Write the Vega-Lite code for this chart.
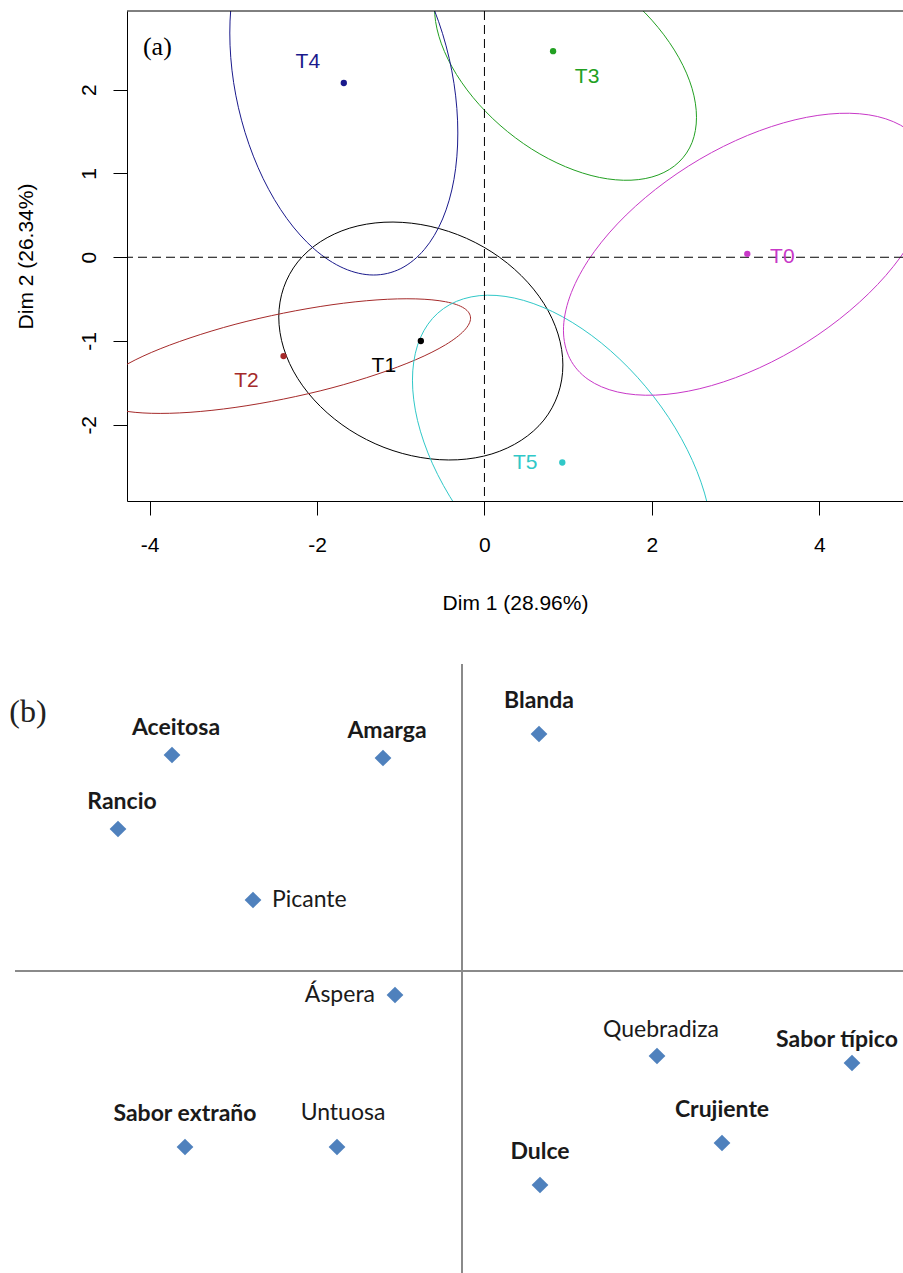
{
  "$schema": "https://vega.github.io/schema/vega-lite/v6.json",
  "padding": {"left": 9, "top": 10, "right": 0, "bottom": 0},
  "spacing": 50,
  "config": {"view": {"stroke": null}, "font": "Liberation Sans"},
  "datasets": {
    "treat": [
      {"name": "T0", "x": 3.14, "y": 0.04},
      {"name": "T1", "x": -0.76, "y": -1.0},
      {"name": "T2", "x": -2.4, "y": -1.18},
      {"name": "T3", "x": 0.82, "y": 2.46},
      {"name": "T4", "x": -1.68, "y": 2.08},
      {"name": "T5", "x": 0.93, "y": -2.45}
    ],
    "ellipses": [
      {"g": "T1", "i": 0, "x": 0.937, "y": -1.286}, {"g": "T1", "i": 1, "x": 0.879, "y": -0.916}, {"g": "T1", "i": 2, "x": 0.71, "y": -0.552}, {"g": "T1", "i": 3, "x": 0.44, "y": -0.219}, {"g": "T1", "i": 4, "x": 0.089, "y": 0.062}, {"g": "T1", "i": 5, "x": -0.32, "y": 0.27}, {"g": "T1", "i": 6, "x": -0.76, "y": 0.391}, {"g": "T1", "i": 7, "x": -1.2, "y": 0.418}, {"g": "T1", "i": 8, "x": -1.609, "y": 0.348}, {"g": "T1", "i": 9, "x": -1.96, "y": 0.185}, {"g": "T1", "i": 10, "x": -2.23, "y": -0.056}, {"g": "T1", "i": 11, "x": -2.399, "y": -0.364}, {"g": "T1", "i": 12, "x": -2.457, "y": -0.714}, {"g": "T1", "i": 13, "x": -2.399, "y": -1.084}, {"g": "T1", "i": 14, "x": -2.23, "y": -1.448}, {"g": "T1", "i": 15, "x": -1.96, "y": -1.781}, {"g": "T1", "i": 16, "x": -1.609, "y": -2.062}, {"g": "T1", "i": 17, "x": -1.2, "y": -2.27}, {"g": "T1", "i": 18, "x": -0.76, "y": -2.391}, {"g": "T1", "i": 19, "x": -0.32, "y": -2.418}, {"g": "T1", "i": 20, "x": 0.089, "y": -2.348}, {"g": "T1", "i": 21, "x": 0.44, "y": -2.185}, {"g": "T1", "i": 22, "x": 0.71, "y": -1.944}, {"g": "T1", "i": 23, "x": 0.879, "y": -1.636},
      {"g": "T2", "i": 0, "x": -0.166, "y": -0.727}, {"g": "T2", "i": 1, "x": -0.242, "y": -0.609}, {"g": "T2", "i": 2, "x": -0.465, "y": -0.531}, {"g": "T2", "i": 3, "x": -0.82, "y": -0.497}, {"g": "T2", "i": 4, "x": -1.283, "y": -0.509}, {"g": "T2", "i": 5, "x": -1.821, "y": -0.567}, {"g": "T2", "i": 6, "x": -2.4, "y": -0.667}, {"g": "T2", "i": 7, "x": -2.979, "y": -0.801}, {"g": "T2", "i": 8, "x": -3.517, "y": -0.963}, {"g": "T2", "i": 9, "x": -3.98, "y": -1.137}, {"g": "T2", "i": 10, "x": -4.335, "y": -1.315}, {"g": "T2", "i": 11, "x": -4.558, "y": -1.485}, {"g": "T2", "i": 12, "x": -4.634, "y": -1.633}, {"g": "T2", "i": 13, "x": -4.558, "y": -1.751}, {"g": "T2", "i": 14, "x": -4.335, "y": -1.829}, {"g": "T2", "i": 15, "x": -3.98, "y": -1.863}, {"g": "T2", "i": 16, "x": -3.517, "y": -1.851}, {"g": "T2", "i": 17, "x": -2.979, "y": -1.793}, {"g": "T2", "i": 18, "x": -2.4, "y": -1.693}, {"g": "T2", "i": 19, "x": -1.821, "y": -1.559}, {"g": "T2", "i": 20, "x": -1.283, "y": -1.397}, {"g": "T2", "i": 21, "x": -0.82, "y": -1.223}, {"g": "T2", "i": 22, "x": -0.465, "y": -1.045}, {"g": "T2", "i": 23, "x": -0.242, "y": -0.875},
      {"g": "T3", "i": 0, "x": 2.533, "y": 1.671}, {"g": "T3", "i": 1, "x": 2.48, "y": 2.016}, {"g": "T3", "i": 2, "x": 2.323, "y": 2.382}, {"g": "T3", "i": 3, "x": 2.074, "y": 2.744}, {"g": "T3", "i": 4, "x": 1.751, "y": 3.078}, {"g": "T3", "i": 5, "x": 1.373, "y": 3.361}, {"g": "T3", "i": 6, "x": 0.968, "y": 3.573}, {"g": "T3", "i": 7, "x": 0.563, "y": 3.701}, {"g": "T3", "i": 8, "x": 0.186, "y": 3.734}, {"g": "T3", "i": 9, "x": -0.138, "y": 3.672}, {"g": "T3", "i": 10, "x": -0.387, "y": 3.518}, {"g": "T3", "i": 11, "x": -0.544, "y": 3.284}, {"g": "T3", "i": 12, "x": -0.597, "y": 2.983}, {"g": "T3", "i": 13, "x": -0.544, "y": 2.638}, {"g": "T3", "i": 14, "x": -0.387, "y": 2.272}, {"g": "T3", "i": 15, "x": -0.138, "y": 1.91}, {"g": "T3", "i": 16, "x": 0.186, "y": 1.576}, {"g": "T3", "i": 17, "x": 0.563, "y": 1.293}, {"g": "T3", "i": 18, "x": 0.968, "y": 1.081}, {"g": "T3", "i": 19, "x": 1.373, "y": 0.953}, {"g": "T3", "i": 20, "x": 1.751, "y": 0.92}, {"g": "T3", "i": 21, "x": 2.074, "y": 0.982}, {"g": "T3", "i": 22, "x": 2.323, "y": 1.136}, {"g": "T3", "i": 23, "x": 2.48, "y": 1.37},
      {"g": "T4", "i": 0, "x": -0.318, "y": 1.483}, {"g": "T4", "i": 1, "x": -0.364, "y": 2.076}, {"g": "T4", "i": 2, "x": -0.5, "y": 2.669}, {"g": "T4", "i": 3, "x": -0.717, "y": 3.222}, {"g": "T4", "i": 4, "x": -0.999, "y": 3.697}, {"g": "T4", "i": 5, "x": -1.327, "y": 4.062}, {"g": "T4", "i": 6, "x": -1.68, "y": 4.292}, {"g": "T4", "i": 7, "x": -2.033, "y": 4.372}, {"g": "T4", "i": 8, "x": -2.361, "y": 4.295}, {"g": "T4", "i": 9, "x": -2.643, "y": 4.066}, {"g": "T4", "i": 10, "x": -2.86, "y": 3.703}, {"g": "T4", "i": 11, "x": -2.996, "y": 3.23}, {"g": "T4", "i": 12, "x": -3.042, "y": 2.677}, {"g": "T4", "i": 13, "x": -2.996, "y": 2.084}, {"g": "T4", "i": 14, "x": -2.86, "y": 1.491}, {"g": "T4", "i": 15, "x": -2.643, "y": 0.938}, {"g": "T4", "i": 16, "x": -2.361, "y": 0.463}, {"g": "T4", "i": 17, "x": -2.033, "y": 0.098}, {"g": "T4", "i": 18, "x": -1.68, "y": -0.132}, {"g": "T4", "i": 19, "x": -1.327, "y": -0.212}, {"g": "T4", "i": 20, "x": -0.999, "y": -0.135}, {"g": "T4", "i": 21, "x": -0.717, "y": 0.094}, {"g": "T4", "i": 22, "x": -0.5, "y": 0.457}, {"g": "T4", "i": 23, "x": -0.364, "y": 0.93},
      {"g": "T5", "i": 0, "x": 2.724, "y": -3.425}, {"g": "T5", "i": 1, "x": 2.663, "y": -2.942}, {"g": "T5", "i": 2, "x": 2.484, "y": -2.426}, {"g": "T5", "i": 3, "x": 2.199, "y": -1.911}, {"g": "T5", "i": 4, "x": 1.828, "y": -1.433}, {"g": "T5", "i": 5, "x": 1.396, "y": -1.023}, {"g": "T5", "i": 6, "x": 0.932, "y": -0.71}, {"g": "T5", "i": 7, "x": 0.468, "y": -0.515}, {"g": "T5", "i": 8, "x": 0.036, "y": -0.453}, {"g": "T5", "i": 9, "x": -0.335, "y": -0.527}, {"g": "T5", "i": 10, "x": -0.62, "y": -0.73}, {"g": "T5", "i": 11, "x": -0.799, "y": -1.05}, {"g": "T5", "i": 12, "x": -0.86, "y": -1.467}, {"g": "T5", "i": 13, "x": -0.799, "y": -1.95}, {"g": "T5", "i": 14, "x": -0.62, "y": -2.466}, {"g": "T5", "i": 15, "x": -0.335, "y": -2.981}, {"g": "T5", "i": 16, "x": 0.036, "y": -3.459}, {"g": "T5", "i": 17, "x": 0.468, "y": -3.869}, {"g": "T5", "i": 18, "x": 0.932, "y": -4.182}, {"g": "T5", "i": 19, "x": 1.396, "y": -4.377}, {"g": "T5", "i": 20, "x": 1.828, "y": -4.439}, {"g": "T5", "i": 21, "x": 2.199, "y": -4.365}, {"g": "T5", "i": 22, "x": 2.484, "y": -4.162}, {"g": "T5", "i": 23, "x": 2.663, "y": -3.842},
      {"g": "T0", "i": 0, "x": 5.34, "y": 0.943}, {"g": "T0", "i": 1, "x": 5.265, "y": 1.279}, {"g": "T0", "i": 2, "x": 5.046, "y": 1.53}, {"g": "T0", "i": 3, "x": 4.696, "y": 1.68}, {"g": "T0", "i": 4, "x": 4.241, "y": 1.718}, {"g": "T0", "i": 5, "x": 3.711, "y": 1.641}, {"g": "T0", "i": 6, "x": 3.142, "y": 1.454}, {"g": "T0", "i": 7, "x": 2.573, "y": 1.171}, {"g": "T0", "i": 8, "x": 2.043, "y": 0.81}, {"g": "T0", "i": 9, "x": 1.588, "y": 0.398}, {"g": "T0", "i": 10, "x": 1.238, "y": -0.04}, {"g": "T0", "i": 11, "x": 1.019, "y": -0.473}, {"g": "T0", "i": 12, "x": 0.944, "y": -0.871}, {"g": "T0", "i": 13, "x": 1.019, "y": -1.207}, {"g": "T0", "i": 14, "x": 1.238, "y": -1.458}, {"g": "T0", "i": 15, "x": 1.588, "y": -1.608}, {"g": "T0", "i": 16, "x": 2.043, "y": -1.646}, {"g": "T0", "i": 17, "x": 2.573, "y": -1.569}, {"g": "T0", "i": 18, "x": 3.142, "y": -1.382}, {"g": "T0", "i": 19, "x": 3.711, "y": -1.099}, {"g": "T0", "i": 20, "x": 4.241, "y": -0.738}, {"g": "T0", "i": 21, "x": 4.696, "y": -0.326}, {"g": "T0", "i": 22, "x": 5.046, "y": 0.112}, {"g": "T0", "i": 23, "x": 5.265, "y": 0.545}
    ],
    "attrs": [
      {"name": "Aceitosa", "x": -2.9, "y": 2.16},
      {"name": "Amarga", "x": -0.79, "y": 2.13},
      {"name": "Rancio", "x": -3.44, "y": 1.42},
      {"name": "Picante", "x": -2.09, "y": 0.71},
      {"name": "Blanda", "x": 0.77, "y": 2.37},
      {"name": "Áspera", "x": -0.67, "y": -0.24},
      {"name": "Quebradiza", "x": 1.95, "y": -0.85},
      {"name": "Sabor típico", "x": 3.9, "y": -0.92},
      {"name": "Crujiente", "x": 2.6, "y": -1.72},
      {"name": "Dulce", "x": 0.78, "y": -2.14},
      {"name": "Sabor extraño", "x": -2.77, "y": -1.76},
      {"name": "Untuosa", "x": -1.25, "y": -1.76}
    ]
  },
  "vconcat": [
    {
      "width": 776,
      "height": 490,
      "layer": [
        {
          "data": {"name": "ellipses"},
          "mark": {"type": "line", "interpolate": "cardinal-closed", "clip": true, "strokeWidth": 1},
          "encoding": {
            "x": {"field": "x", "type": "quantitative",
              "scale": {"domain": [-4.27, 5.0], "nice": false, "zero": false},
              "axis": {"title": "Dim 1 (28.96%)", "values": [-4, -2, 0, 2, 4], "labelExpr": "'' + datum.value", "grid": false,
                "domainColor": "#000000", "domainWidth": 1, "tickColor": "#000000", "tickSize": 14, "tickWidth": 1,
                "labelFont": "Liberation Sans", "labelFontSize": 21, "labelColor": "#000000", "labelPadding": 19,
                "labelFlush": false, "labelOverlap": false,
                "titleFont": "Liberation Sans", "titleFontSize": 21, "titleFontWeight": "normal", "titleColor": "#000000", "titlePadding": 37}},
            "y": {"field": "y", "type": "quantitative",
              "scale": {"domain": [-2.91, 2.94], "nice": false, "zero": false},
              "axis": {"title": "Dim 2 (26.34%)", "values": [-2, -1, 0, 1, 2], "labelExpr": "'' + datum.value", "grid": false,
                "domainColor": "#000000", "domainWidth": 1, "tickColor": "#000000", "tickSize": 14, "tickWidth": 1,
                "labelFont": "Liberation Sans", "labelFontSize": 21, "labelColor": "#000000", "labelPadding": 14,
                "labelAngle": -90, "labelFlush": false, "labelOverlap": false,
                "titleFont": "Liberation Sans", "titleFontSize": 21, "titleFontWeight": "normal", "titleColor": "#000000", "titlePadding": 42}},
            "color": {"field": "g", "type": "nominal",
              "scale": {"domain": ["T0", "T1", "T2", "T3", "T4", "T5"], "range": ["#C838C8", "#000000", "#A52A2A", "#22A022", "#1A1A8C", "#30C8C8"]},
              "legend": null},
            "order": {"field": "i", "type": "quantitative"}
          }
        },
        {
          "data": {"values": [{}]},
          "mark": {"type": "rule", "strokeDash": [9, 5], "color": "#000000", "strokeWidth": 1},
          "encoding": {"x": {"datum": 0}}
        },
        {
          "data": {"values": [{}]},
          "mark": {"type": "rule", "strokeDash": [9, 5], "color": "#000000", "strokeWidth": 1},
          "encoding": {"y": {"datum": 0}}
        },
        {
          "data": {"values": [{}]},
          "mark": {"type": "rule", "color": "#000000", "strokeWidth": 1},
          "encoding": {"y": {"datum": 2.94}}
        },
        {
          "data": {"name": "treat"},
          "mark": {"type": "circle", "size": 40, "opacity": 1},
          "encoding": {
            "x": {"field": "x", "type": "quantitative"},
            "y": {"field": "y", "type": "quantitative"},
            "color": {"field": "name", "type": "nominal", "legend": null}
          }
        },
        {
          "data": {"name": "treat"},
          "transform": [{"filter": {"field": "name", "oneOf": ["T1", "T2"]}}],
          "mark": {"type": "text", "font": "Liberation Sans", "fontSize": 21, "align": "center", "baseline": "middle", "dx": -37, "dy": 25},
          "encoding": {
            "x": {"field": "x", "type": "quantitative"},
            "y": {"field": "y", "type": "quantitative"},
            "text": {"field": "name"},
            "color": {"field": "name", "type": "nominal", "legend": null}
          }
        },
        {
          "data": {"name": "treat"},
          "transform": [{"filter": {"field": "name", "equal": "T4"}}],
          "mark": {"type": "text", "font": "Liberation Sans", "fontSize": 21, "align": "center", "baseline": "middle", "dx": -36, "dy": -21},
          "encoding": {
            "x": {"field": "x", "type": "quantitative"},
            "y": {"field": "y", "type": "quantitative"},
            "text": {"field": "name"},
            "color": {"field": "name", "type": "nominal", "legend": null}
          }
        },
        {
          "data": {"name": "treat"},
          "transform": [{"filter": {"field": "name", "equal": "T3"}}],
          "mark": {"type": "text", "font": "Liberation Sans", "fontSize": 21, "align": "center", "baseline": "middle", "dx": 34, "dy": 26},
          "encoding": {
            "x": {"field": "x", "type": "quantitative"},
            "y": {"field": "y", "type": "quantitative"},
            "text": {"field": "name"},
            "color": {"field": "name", "type": "nominal", "legend": null}
          }
        },
        {
          "data": {"name": "treat"},
          "transform": [{"filter": {"field": "name", "equal": "T0"}}],
          "mark": {"type": "text", "font": "Liberation Sans", "fontSize": 21, "align": "center", "baseline": "middle", "dx": 35, "dy": 3},
          "encoding": {
            "x": {"field": "x", "type": "quantitative"},
            "y": {"field": "y", "type": "quantitative"},
            "text": {"field": "name"},
            "color": {"field": "name", "type": "nominal", "legend": null}
          }
        },
        {
          "data": {"name": "treat"},
          "transform": [{"filter": {"field": "name", "equal": "T5"}}],
          "mark": {"type": "text", "font": "Liberation Sans", "fontSize": 21, "align": "center", "baseline": "middle", "dx": -37, "dy": 1},
          "encoding": {
            "x": {"field": "x", "type": "quantitative"},
            "y": {"field": "y", "type": "quantitative"},
            "text": {"field": "name"},
            "color": {"field": "name", "type": "nominal", "legend": null}
          }
        },
        {
          "data": {"values": [{}]},
          "mark": {"type": "text", "font": "Liberation Serif", "fontSize": 26, "align": "center", "baseline": "middle", "color": "#000000"},
          "encoding": {"x": {"datum": -3.907}, "y": {"datum": 2.506}, "text": {"value": "(a)"}}
        }
      ]
    },
    {
      "width": 776,
      "height": 611,
      "layer": [
        {
          "data": {"values": [{}]},
          "mark": {"type": "rule", "color": "#8a8a8a", "strokeWidth": 2},
          "encoding": {"x": {"datum": -4.47, "axis": null}, "x2": {"datum": 4.41}, "y": {"datum": 0, "axis": null}}
        },
        {
          "data": {"values": [{}]},
          "mark": {"type": "rule", "color": "#8a8a8a", "strokeWidth": 2},
          "encoding": {"x": {"datum": 0, "axis": null}}
        },
        {
          "data": {"name": "attrs"},
          "mark": {"type": "point", "shape": "diamond", "filled": true, "size": 280, "color": "#4F81BD", "opacity": 1},
          "encoding": {
            "x": {"field": "x", "type": "quantitative", "scale": {"domain": [-3.35, 4.41], "nice": false, "zero": false}, "axis": null},
            "y": {"field": "y", "type": "quantitative", "scale": {"domain": [-3.04, 3.07], "nice": false, "zero": false}, "axis": null}
          }
        },
        {
          "data": {"name": "attrs"},
          "transform": [{"filter": {"field": "name", "oneOf": ["Aceitosa", "Amarga", "Rancio"]}}],
          "mark": {"type": "text", "font": "Lato", "fontSize": 23, "fontWeight": "bold", "color": "#1a1a1a", "align": "center", "baseline": "middle", "dx": 4, "dy": -27},
          "encoding": {
            "x": {"field": "x", "type": "quantitative", "axis": null},
            "y": {"field": "y", "type": "quantitative", "axis": null},
            "text": {"field": "name"}
          }
        },
        {
          "data": {"name": "attrs"},
          "transform": [{"filter": {"field": "name", "oneOf": ["Blanda", "Crujiente", "Dulce", "Sabor extraño"]}}],
          "mark": {"type": "text", "font": "Lato", "fontSize": 23, "fontWeight": "bold", "color": "#1a1a1a", "align": "center", "baseline": "middle", "dx": 0, "dy": -33},
          "encoding": {
            "x": {"field": "x", "type": "quantitative", "axis": null},
            "y": {"field": "y", "type": "quantitative", "axis": null},
            "text": {"field": "name"}
          }
        },
        {
          "data": {"name": "attrs"},
          "transform": [{"filter": {"field": "name", "equal": "Sabor típico"}}],
          "mark": {"type": "text", "font": "Lato", "fontSize": 23, "fontWeight": "bold", "color": "#1a1a1a", "align": "center", "baseline": "middle", "dx": -15, "dy": -23},
          "encoding": {
            "x": {"field": "x", "type": "quantitative", "axis": null},
            "y": {"field": "y", "type": "quantitative", "axis": null},
            "text": {"field": "name"}
          }
        },
        {
          "data": {"name": "attrs"},
          "transform": [{"filter": {"field": "name", "equal": "Quebradiza"}}],
          "mark": {"type": "text", "font": "Lato", "fontSize": 23, "fontWeight": "normal", "color": "#1a1a1a", "align": "center", "baseline": "middle", "dx": 4, "dy": -26},
          "encoding": {
            "x": {"field": "x", "type": "quantitative", "axis": null},
            "y": {"field": "y", "type": "quantitative", "axis": null},
            "text": {"field": "name"}
          }
        },
        {
          "data": {"name": "attrs"},
          "transform": [{"filter": {"field": "name", "equal": "Untuosa"}}],
          "mark": {"type": "text", "font": "Lato", "fontSize": 23, "fontWeight": "normal", "color": "#1a1a1a", "align": "center", "baseline": "middle", "dx": 6, "dy": -34},
          "encoding": {
            "x": {"field": "x", "type": "quantitative", "axis": null},
            "y": {"field": "y", "type": "quantitative", "axis": null},
            "text": {"field": "name"}
          }
        },
        {
          "data": {"name": "attrs"},
          "transform": [{"filter": {"field": "name", "equal": "Picante"}}],
          "mark": {"type": "text", "font": "Lato", "fontSize": 23, "fontWeight": "normal", "color": "#1a1a1a", "align": "left", "baseline": "middle", "dx": 19, "dy": 0},
          "encoding": {
            "x": {"field": "x", "type": "quantitative", "axis": null},
            "y": {"field": "y", "type": "quantitative", "axis": null},
            "text": {"field": "name"}
          }
        },
        {
          "data": {"name": "attrs"},
          "transform": [{"filter": {"field": "name", "equal": "Áspera"}}],
          "mark": {"type": "text", "font": "Lato", "fontSize": 23, "fontWeight": "normal", "color": "#1a1a1a", "align": "right", "baseline": "middle", "dx": -20, "dy": 0},
          "encoding": {
            "x": {"field": "x", "type": "quantitative", "axis": null},
            "y": {"field": "y", "type": "quantitative", "axis": null},
            "text": {"field": "name"}
          }
        },
        {
          "data": {"values": [{}]},
          "mark": {"type": "text", "font": "Liberation Serif", "fontSize": 32, "align": "center", "baseline": "middle", "color": "#222222"},
          "encoding": {"x": {"datum": -4.34, "axis": null}, "y": {"datum": 2.59, "axis": null}, "text": {"value": "(b)"}}
        }
      ]
    }
  ]
}
